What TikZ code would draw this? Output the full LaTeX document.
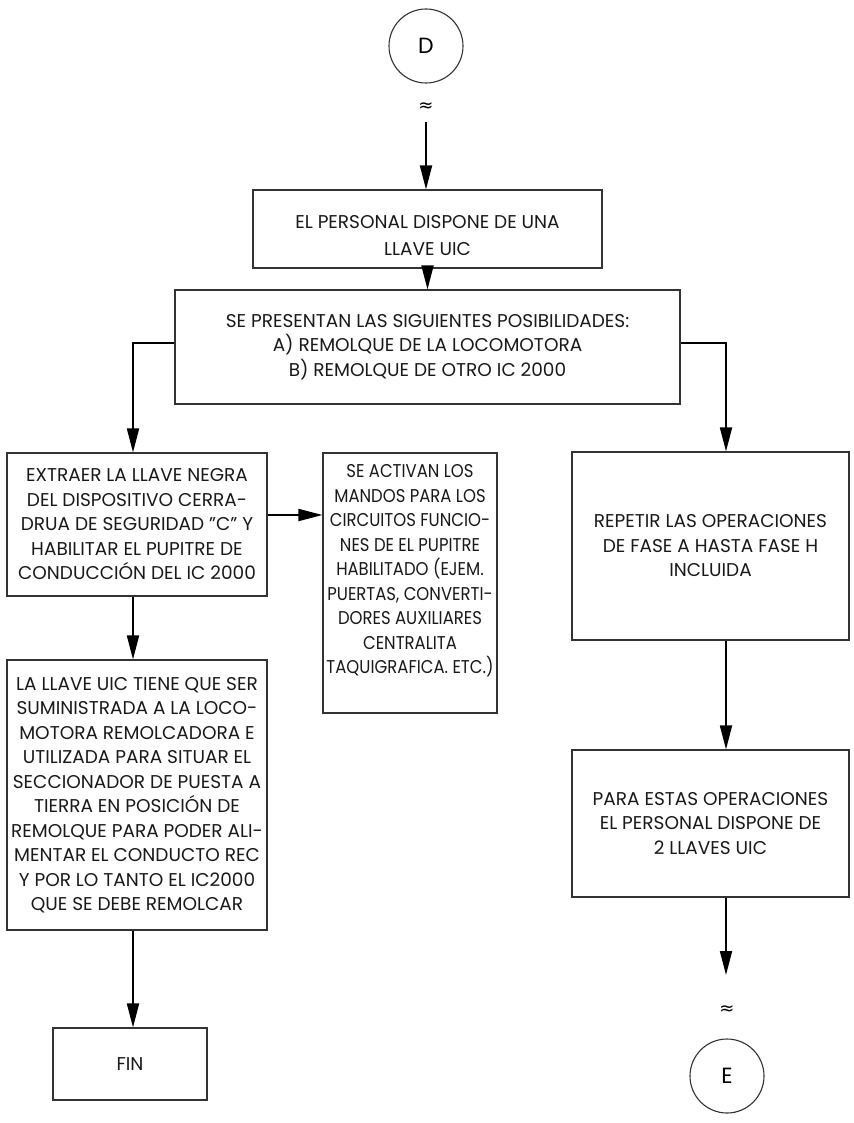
\documentclass[tikz,border=0pt]{standalone}
\usepackage{fontspec}
\setmainfont{Poppins}
\newfontfamily\symfont{DejaVu Sans}
\usetikzlibrary{arrows.meta}

\begin{document}
\begin{tikzpicture}[x=1pt,y=-1pt,
  box/.style={draw=black!80, line width=1.1pt, align=center, inner sep=0pt,
    text=black!90, font=\fontsize{18.5}{24.5}\selectfont},
  frame/.style={draw=black!80, line width=1.1pt, inner sep=0pt},
  txt/.style={align=center, inner sep=0pt, text=black!90,
    font=\fontsize{18.5}{24.5}\selectfont},
  narrow/.style={font=\fontsize{18.5}{24.5}\selectfont\addfontfeatures{FakeStretch=0.89}},
  flow/.style={draw=black, line width=1.8pt,
    -{Triangle[length=24pt,width=12pt]}},
  conn/.style={circle, draw=black!80, line width=1.1pt, minimum size=74pt,
    inner sep=0pt, font=\fontsize{22}{24}\selectfont},
  wave/.style={font=\symfont\fontsize{18}{18}\selectfont, inner sep=0pt}]
\useasboundingbox (0,0) rectangle (853,1123);

% connector D and the first step
\node[conn] (D) at (426,46) {D};
\node[wave] (wD) at (426,107) {≈};
\coordinate (d1) at (426,122);

\node[frame, minimum width=349pt, minimum height=78pt] (b1) at (427.5,229) {};
\node[txt, font=\fontsize{18.5}{27}\selectfont] (b1t) at (427.5,236)
  {EL PERSONAL DISPONE DE UNA\\LLAVE UIC};

\node[box, minimum width=505pt, minimum height=114pt] (b2) at (427.5,347)
  {SE PRESENTAN LAS SIGUIENTES POSIBILIDADES:\\
   A) REMOLQUE DE LA LOCOMOTORA\\
   B) REMOLQUE DE OTRO IC 2000};

% left branch
\node[box, minimum width=260pt, minimum height=143pt] (la) at (137,524.5)
  {EXTRAER LA LLAVE NEGRA\\DEL DISPOSITIVO CERRA-\\DRUA DE SEGURIDAD "C" Y\\
   HABILITAR EL PUPITRE DE\\CONDUCCIÓN DEL IC 2000};

\node[frame, minimum width=174pt, minimum height=260pt] (mid) at (410,583) {};
\node[txt, narrow] (midt) at (410,571)
  {SE ACTIVAN LOS\\MANDOS PARA LOS\\CIRCUITOS FUNCIO-\\NES DE EL PUPITRE\\
   HABILITADO (EJEM.\\PUERTAS, CONVERTI-\\DORES AUXILIARES\\CENTRALITA\\
   TAQUIGRAFICA. ETC.)};

\node[box, minimum width=260pt, minimum height=270pt] (lb) at (137,795)
  {LA LLAVE UIC TIENE QUE SER\\SUMINISTRADA A LA LOCO-\\MOTORA REMOLCADORA E\\
   UTILIZADA PARA SITUAR EL\\SECCIONADOR DE PUESTA A\\TIERRA EN POSICIÓN DE\\
   REMOLQUE PARA PODER ALI-\\MENTAR EL CONDUCTO REC\\Y POR LO TANTO EL IC2000\\
   QUE SE DEBE REMOLCAR};

\node[box, minimum width=154pt, minimum height=72pt] (fin) at (130,1064) {FIN};

% right branch
\node[box, minimum width=277pt, minimum height=188pt] (r1) at (710.5,546)
  {REPETIR LAS OPERACIONES\\DE FASE A HASTA FASE H\\INCLUIDA};

\node[box, minimum width=277pt, minimum height=147pt] (r2) at (710.5,823.5)
  {PARA ESTAS OPERACIONES\\EL PERSONAL DISPONE DE\\2 LLAVES UIC};

\coordinate (e1) at (726,975);
\node[wave] (wE) at (727,1010) {≈};
\node[conn] (E) at (727,1076) {E};

% routing points
\coordinate (lx) at (133,343);
\coordinate (rx) at (726,343);
\coordinate (ly) at (0,515);

% connectors
\draw[flow] (d1) -- (d1 |- b1.north);
\draw[flow] (b1.south) -- (b2.north);
\draw[flow] (b2.west |- lx) -- (lx) -- (lx |- la.north);
\draw[flow] (b2.east |- rx) -- (rx) -- (rx |- r1.north);
\draw[flow] (la.east |- ly) -- (mid.west |- ly);
\draw[flow] (la.south -| lx) -- (lb.north -| lx);
\draw[flow] (lb.south -| lx) -- (fin.north -| lx);
\draw[flow] (r1.south -| rx) -- (r2.north -| rx);
\draw[flow] (r2.south -| rx) -- (e1);
\end{tikzpicture}
\end{document}
